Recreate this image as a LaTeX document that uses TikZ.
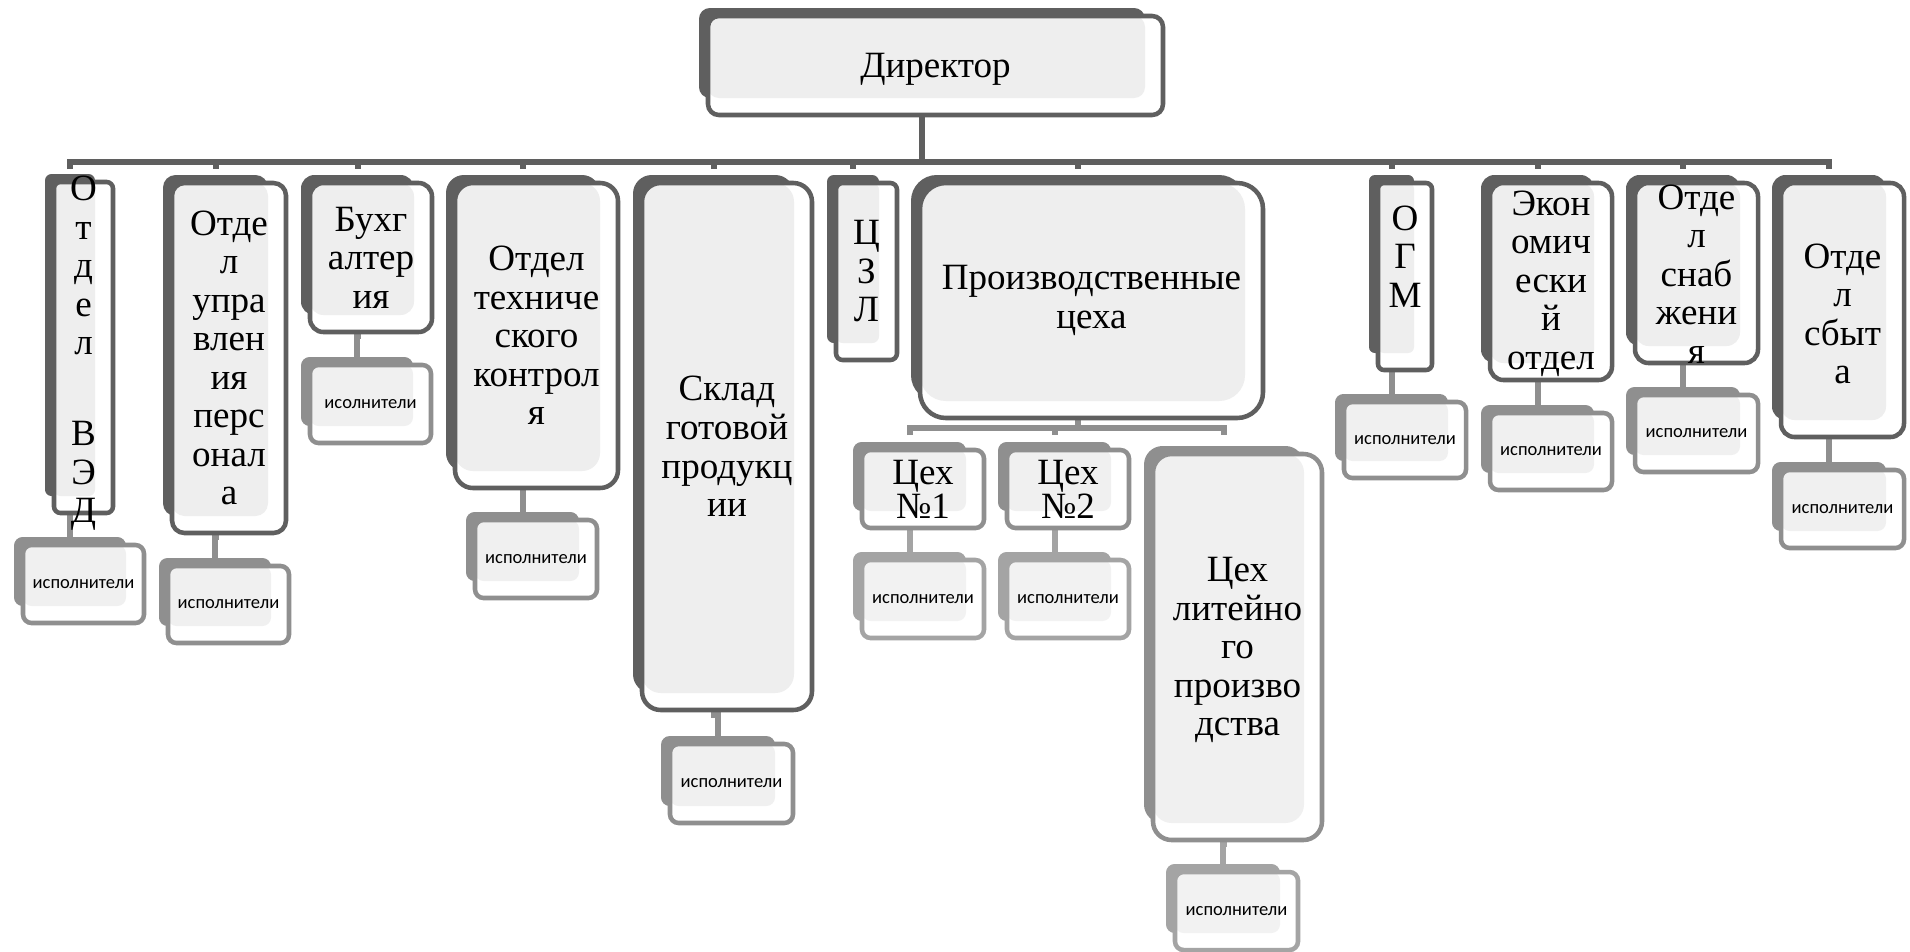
\documentclass[tikz,border=0pt]{standalone}
\usepackage{fontspec}
\setmainfont{Liberation Serif}
\newfontfamily\serfont{Liberation Serif}
\newfontfamily\calfont{Carlito}
\usetikzlibrary{calc}
\definecolor{Adark}{HTML}{5F5F5F}
\definecolor{Alight}{HTML}{EEEEEE}
\definecolor{Aedge}{HTML}{5F5F5F}
\definecolor{Bdark}{HTML}{8F8F8F}
\definecolor{Blight}{HTML}{F0F0F0}
\definecolor{Bedge}{HTML}{8F8F8F}
\definecolor{Cdark}{HTML}{A4A4A4}
\definecolor{Clight}{HTML}{F2F2F2}
\definecolor{Cedge}{HTML}{A4A4A4}
\pgfdeclarelayer{bg}
\pgfsetlayers{bg,main}
\tikzset{
  big/.style={font=\serfont\fontsize{27.8}{28.9}\selectfont, align=center, inner sep=0pt},
  mid/.style={font=\serfont\fontsize{27.8}{25.5}\selectfont, align=center, inner sep=0pt},
  small/.style={font=\calfont\fontsize{13.9}{16}\selectfont, inner sep=0pt},
  conA/.style={draw=Aedge, line width=4.5pt},
  conB/.style={draw=Bedge, line width=4.5pt},
  conC/.style={draw=Cedge, line width=4.5pt},
}
\newcommand\obox[9]{%
  \pgfmathsetmacro\rr{0.11*min(#4-#2,#5-#3)*0.75}%
  \pgfmathsetmacro\ww{(#4-#2)*0.75}%
  \pgfmathsetmacro\hh{(#5-#3)*0.75}%
  \fill[#6dark, rounded corners=\rr pt] ({#2-9},{#3-8}) rectangle ({#4-18},{#5-17});
  \fill[white, rounded corners=\rr pt] (#2,#3) rectangle (#4,#5);
  \fill[#6light, rounded corners=\rr pt] (#2,#3) rectangle ({#4-18},{#5-17});
  \node[draw=#6edge, line width=3.4pt, rounded corners=\rr pt, minimum width=\ww pt, minimum height=\hh pt, inner sep=0pt] (#1) at ({(#2+#4)/2},{(#3+#5)/2}) {};
  \coordinate (#1-top) at ({(#2+#4-27)/2},{#3-8});
  \coordinate (#1-bot) at ({(#2+#4-27)/2},{#5-17});
  \node[#8] (#1-t) at ({(#2+#4)/2},{(#3+#5)/2+#7}) {#9};
}
\newcommand\link[3]{\draw[#1] (#2) |- ($(#2)!.5!(#3)$) -| (#3);}
\begin{document}
\begin{tikzpicture}[x=0.75pt, y=-0.75pt]
\useasboundingbox (0,0) rectangle (1910,951);
% level 1
\obox{dir}{708}{16}{1163}{115}{A}{4}{big}{Директор}
\obox{ovd}{54}{182}{113}{513}{A}{6}{big}{О\\т\\д\\е\\л\\[39.4pt]В\\Э\\Д}
\obox{oup}{172}{183}{286}{533}{A}{0}{big}{Отде\\л\\упра\\влен\\ия\\перс\\онал\\а}
\obox{buh}{310}{183}{432}{332}{A}{0}{big}{Бухг\\алтер\\ия}
\obox{otk}{455}{183}{618}{488}{A}{0}{big}{Отдел\\техниче\\ского\\контрол\\я}
\obox{skl}{642}{183}{812}{710}{A}{0}{big}{Склад\\готовой\\продукц\\ии}
\obox{czl}{836}{183}{897}{360}{A}{0}{big}{Ц\\З\\Л}
\obox{pc}{920}{183}{1263}{418}{A}{0}{big}{Производственные\\цеха}
\obox{ogm}{1378}{183}{1432}{370}{A}{-20}{big}{О\\Г\\М}
\obox{ekon}{1490}{183}{1612}{380}{A}{2}{big}{Экон\\омич\\ески\\й\\отдел}
\obox{snab}{1635}{183}{1758}{363}{A}{1}{big}{Отде\\л\\снаб\\жени\\я}
\obox{sbyt}{1781}{183}{1904}{437}{A}{4}{big}{Отде\\л\\сбыт\\а}
% level 2
\obox{ovdi}{23}{545}{144}{623}{B}{0}{small}{исполнители}
\obox{oupi}{168}{566}{289}{643}{B}{0}{small}{исполнители}
\obox{buhi}{310}{365}{431}{443}{B}{0}{small}{исолнители}
\obox{otki}{475}{520}{597}{598}{B}{0}{small}{исполнители}
\obox{skli}{670}{744}{793}{823}{B}{0}{small}{исполнители}
\obox{ogmi}{1344}{402}{1466}{478}{B}{0}{small}{исполнители}
\obox{ekoni}{1490}{413}{1612}{490}{B}{0}{small}{исполнители}
\obox{snabi}{1635}{395}{1758}{472}{B}{0}{small}{исполнители}
\obox{sbyti}{1781}{470}{1904}{548}{B}{0}{small}{исполнители}
\obox{c1}{862}{450}{984}{528}{B}{0}{mid}{Цех\\№1}
\obox{c2}{1007}{450}{1129}{528}{B}{0}{mid}{Цех\\№2}
\obox{lit}{1153}{454}{1322}{840}{B}{3}{big}{Цех\\литейно\\го\\произво\\дства}
% level 3
\obox{c1i}{862}{560}{984}{638}{C}{0}{small}{исполнители}
\obox{c2i}{1007}{560}{1129}{638}{C}{0}{small}{исполнители}
\obox{liti}{1175}{872}{1298}{950}{C}{0}{small}{исполнители}
% connectors (behind the boxes)
\begin{pgfonlayer}{bg}
\fill[white] (0,0) rectangle (1910,951);
\coordinate (bus) at (0,162);
\coordinate (tk) at (0,169);
\coordinate (sub) at (0,428);
\coordinate (tk2) at (0,435);
\draw[conA] (dir-bot) -- (dir-bot |- bus);
\draw[conA] (ovd-top |- tk) -- (ovd-top |- bus) -- (sbyt-top |- bus) -- (sbyt-top |- tk);
\foreach \n in {oup,buh,otk,skl,czl,pc,ogm,ekon,snab}
  \draw[conA] (\n-top |- bus) -- (\n-top |- tk);
\foreach \p in {ovd,oup,buh,otk,skl,ogm,ekon,snab,sbyt}
  \link{conB}{\p-bot}{\p i-top}
\draw[conB] (pc-bot) -- (pc-bot |- sub);
\draw[conB] (c1-top |- tk2) -- (c1-top |- sub) -- (lit-top |- sub) -- (lit-top |- tk2);
\draw[conB] (c2-top |- sub) -- (c2-top |- tk2);
\link{conC}{c1-bot}{c1i-top}
\link{conC}{c2-bot}{c2i-top}
\link{conC}{lit-bot}{liti-top}
\end{pgfonlayer}
\end{tikzpicture}
\end{document}
